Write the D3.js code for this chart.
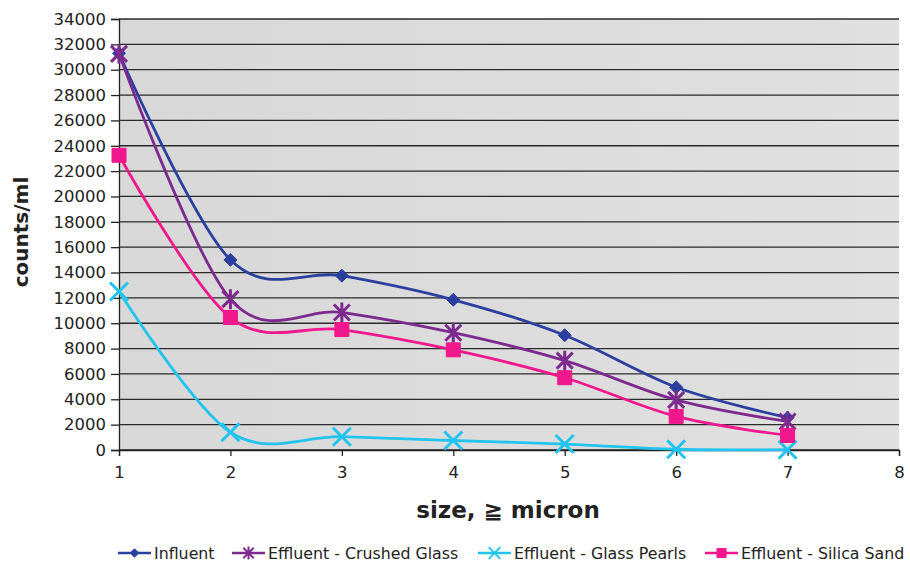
<!DOCTYPE html>
<html>
<head>
<meta charset="utf-8">
<script src="https://cdn.jsdelivr.net/npm/d3@7"></script>
<style>
  html, body { margin: 0; padding: 0; background: #fff; }
  svg text { font-family: "DejaVu Sans", sans-serif; fill: #222; }
</style>
</head>
<body>
<div id="viz"></div>
<script>
const sizes = [1, 2, 3, 4, 5, 6, 7];
const influent = [31300, 15000, 13750, 11850, 9050, 4950, 2550];
const crushedGlass = [31250, 11900, 10850, 9250, 7050, 3950, 2250];
const glassPearls = [12500, 1400, 1050, 750, 470, 60, 20];
const silicaSand = [23250, 10450, 9500, 7900, 5700, 2650, 1150];
const seriesNames = ['Influent', 'Effluent - Crushed Glass', 'Effluent - Glass Pearls', 'Effluent - Silica Sand'];
const xTicks = [1, 2, 3, 4, 5, 6, 7, 8];
const yTicks = d3.range(0, 34001, 2000);

const W = 910, H = 564;
const plotL = 119, plotR = 899, plotT = 19, plotB = 450;

const svg = d3.select('#viz').append('svg')
  .attr('width', W)
  .attr('height', H);

const x = d3.scaleLinear().domain([1, 8]).range([plotL, plotR]);
const y = d3.scaleLinear().domain([0, 34000]).range([plotB, plotT]);

// plot background
const grad = svg.append('defs').append('linearGradient')
  .attr('id', 'bg').attr('x1', 0).attr('x2', 1).attr('y1', 0).attr('y2', 0);
grad.append('stop').attr('offset', '0%').attr('stop-color', '#d8d8d8');
grad.append('stop').attr('offset', '100%').attr('stop-color', '#e0e0e0');

svg.append('rect')
  .attr('x', plotL).attr('y', plotT)
  .attr('width', plotR - plotL).attr('height', plotB - plotT)
  .attr('fill', 'url(#bg)');

// GRID
svg.append('g')
  .selectAll('line')
  .data(yTicks)
  .join('line')
  .attr('x1', plotL).attr('x2', plotR)
  .attr('y1', d => y(d)).attr('y2', d => y(d))
  .attr('stroke', '#2a2a2a')
  .attr('stroke-width', 1.3);

// AXES
const yAxis = svg.append('g')
  .attr('transform', `translate(${plotL},0)`)
  .call(d3.axisLeft(y).tickValues(yTicks).tickSize(8).tickPadding(5).tickFormat(d3.format('d')));
yAxis.select('.domain').attr('stroke', '#222').attr('stroke-width', 1.3);
yAxis.selectAll('.tick line').attr('stroke', '#222').attr('stroke-width', 1.3);
yAxis.selectAll('text').style('font-size', '16.5px').attr('fill', '#222');

const xAxis = svg.append('g')
  .attr('transform', `translate(0,${plotB})`)
  .call(d3.axisBottom(x).tickValues(xTicks).tickSize(6).tickPadding(10).tickFormat(d3.format('d')));
xAxis.select('.domain').attr('stroke', '#222').attr('stroke-width', 1.3);
xAxis.selectAll('.tick line').attr('stroke', '#222').attr('stroke-width', 1.3);
xAxis.selectAll('text').style('font-size', '16.5px').attr('fill', '#222');

// TITLES
svg.append('text')
  .attr('x', 508).attr('y', 518)
  .attr('text-anchor', 'middle')
  .style('font-size', '23px').style('font-weight', 'bold')
  .text('size, \u2267 micron');

svg.append('text')
  .attr('transform', 'translate(28,232) rotate(-90)')
  .attr('text-anchor', 'middle')
  .style('font-size', '20px').style('font-weight', 'bold')
  .text('counts/ml');

// SERIES
const colors = ['#2b3f9e', '#7d2a8e', '#22c4ee', '#f0188c'];
const allSeries = [influent, crushedGlass, glassPearls, silicaSand];

const line = d3.line()
  .x((d, i) => x(sizes[i]))
  .y(d => y(d))
  .curve(d3.curveCardinal.tension(0));

const markerPath = (kind, s) => {
  if (kind === 0) return `M0,${-s}L${s},0L0,${s}L${-s},0Z`;
  if (kind === 1) return `M${-s},${-s}L${s},${s}M${-s},${s}L${s},${-s}M0,${-s * 1.25}L0,${s * 1.25}`;
  if (kind === 2) return `M${-s},${-s}L${s},${s}M${-s},${s}L${s},${-s}`;
  return `M${-s},${-s}H${s}V${s}H${-s}Z`;
};
const markerSize = [6.5, 8, 9, 7];

allSeries.forEach((vals, k) => {
  const g = svg.append('g');
  g.append('path')
    .datum(vals)
    .attr('fill', 'none')
    .attr('stroke', colors[k])
    .attr('stroke-width', 2.8)
    .attr('d', line);
  g.selectAll('path.m')
    .data(vals)
    .join('path')
    .attr('class', 'm')
    .attr('transform', (d, i) => `translate(${x(sizes[i])},${y(d)})`)
    .attr('d', markerPath(k, markerSize[k]))
    .attr('fill', k === 0 || k === 3 ? colors[k] : 'none')
    .attr('stroke', colors[k])
    .attr('stroke-width', k === 0 || k === 3 ? 1 : 3);
});

// LEGEND
const legendX = [118, 232, 478, 705];
const legend = svg.append('g').attr('transform', 'translate(0,553)');
seriesNames.forEach((name, k) => {
  const g = legend.append('g').attr('transform', `translate(${legendX[k]},0)`);
  g.append('line')
    .attr('x1', 0).attr('x2', 33)
    .attr('stroke', colors[k]).attr('stroke-width', 2.6);
  const s = markerSize[k] * 0.65;
  g.append('path')
    .attr('transform', 'translate(16.5,0)')
    .attr('d', markerPath(k, s))
    .attr('fill', k === 0 || k === 3 ? colors[k] : 'none')
    .attr('stroke', colors[k])
    .attr('stroke-width', k === 0 || k === 3 ? 1 : 2);
  g.append('text')
    .attr('x', 36).attr('y', 6)
    .style('font-size', '15.8px')
    .text(name);
});
</script>
</body>
</html>
